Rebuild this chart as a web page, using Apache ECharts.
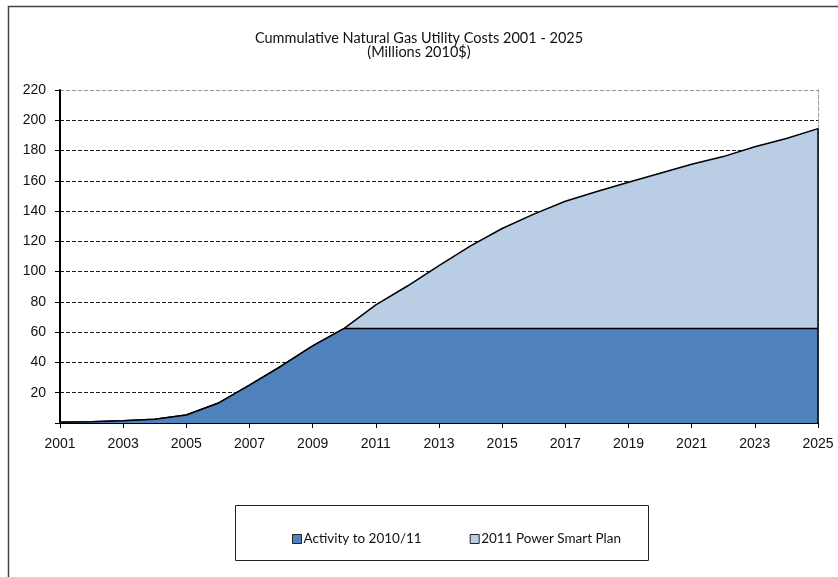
<!DOCTYPE html>
<html>
<head>
<meta charset="utf-8">
<title>Cummulative Natural Gas Utility Costs 2001 - 2025</title>
<script src="https://cdn.jsdelivr.net/npm/echarts@6/dist/echarts.min.js"></script>
<style>
  html, body { margin: 0; padding: 0; background: #fff; }
  #chart { width: 838px; height: 577px; }
</style>
</head>
<body>
<div id="chart"></div>
<script>
// Years on the category axis
const years = ['2001','2002','2003','2004','2005','2006','2007','2008','2009','2010',
  '2011','2012','2013','2014','2015','2016','2017','2018','2019','2020',
  '2021','2022','2023','2024','2025'];

// Cumulative spend through 2010/11 (millions 2010$), flat once the period ends
const activity = [0.5, 0.8, 1.5, 2.5, 5.3, 13, 25, 37.5, 51, 62.5,
  62.5, 62.5, 62.5, 62.5, 62.5, 62.5, 62.5, 62.5, 62.5, 62.5,
  62.5, 62.5, 62.5, 62.5, 62.5];

// Additional cumulative spend under the 2011 Power Smart Plan (stacked on top)
const powerSmart = [0, 0, 0, 0, 0, 0, 0, 0, 0, 0,
  15.5, 28, 41.5, 54.5, 66, 75.5, 84, 90.5, 96.5, 102.5,
  108.5, 113.5, 120, 125.5, 132];

const yTicks = { min: 0, max: 220, step: 20 };

const seriesNames = ['Activity to 2010/11', '2011 Power Smart Plan'];
const titleLines = ['Cummulative Natural Gas Utility Costs 2001 - 2025', '(Millions 2010$)'];

const lastIdx = years.length - 1;
const lastTotal = activity[lastIdx] + powerSmart[lastIdx];

// grid line colours: dark dashes, the top border lighter
const splitColors = [];
for (let v = yTicks.min; v <= yTicks.max; v += yTicks.step) {
  splitColors.push(v === yTicks.max ? '#9a9a9a' : '#1a1a1a');
}

const chart = echarts.init(document.getElementById('chart'), null, { renderer: 'canvas' });

chart.setOption({
  animation: false,
  backgroundColor: '#fff',
  textStyle: { fontFamily: 'Liberation Sans, Arial, sans-serif' },
  title: {
    text: titleLines.join('\n'),
    left: 'center',
    top: 26,
    textStyle: {
      fontFamily: 'Lato, sans-serif',
      fontSize: 14.5,
      fontWeight: 'normal',
      color: '#111',
      lineHeight: 14
    }
  },
  graphic: [
    {
      type: 'rect',
      silent: true,
      shape: { x: 8.5, y: 6.5, width: 900, height: 700 },
      style: { fill: null, stroke: '#444', lineWidth: 1.5 }
    },
    {
      type: 'rect',
      silent: true,
      shape: { x: 235.5, y: 505.5, width: 413, height: 55 },
      style: { fill: null, stroke: '#222', lineWidth: 1 }
    }
  ],
  legend: {
    left: 287,
    top: 527,
    itemGap: 48,
    itemWidth: 9,
    itemHeight: 9,
    icon: 'rect',
    textStyle: { fontFamily: 'Lato, sans-serif', fontSize: 13.5, color: '#111', padding: [0, 0, 0, -3] },
    data: seriesNames.map(n => ({ name: n, itemStyle: { borderColor: '#222', borderWidth: 1 } }))
  },
  grid: { left: 60, right: 20, top: 90, bottom: 154, containLabel: false },
  xAxis: {
    type: 'category',
    data: years,
    boundaryGap: false,
    axisLine: { lineStyle: { color: '#000', width: 2 } },
    axisTick: { show: true, interval: 1, length: 5, lineStyle: { color: '#000', width: 1 } },
    axisLabel: { interval: 1, color: '#111', fontSize: 14, margin: 14 },
    splitLine: { show: false }
  },
  yAxis: [
    {
      type: 'value',
      min: yTicks.min,
      max: yTicks.max,
      interval: yTicks.step,
      axisLine: { show: true, lineStyle: { color: '#000', width: 2 } },
      axisTick: { show: true, length: 5, lineStyle: { color: '#000' } },
      axisLabel: {
        color: '#111', fontSize: 14, margin: 14,
        formatter: v => (v === 0 ? '' : String(v))
      },
      splitLine: { show: true, lineStyle: { type: [4, 2], color: splitColors, width: 1 } }
    },
    {
      type: 'value',
      min: yTicks.min,
      max: yTicks.max,
      interval: yTicks.step,
      position: 'right',
      axisLine: { show: true, lineStyle: { color: '#9a9a9a', type: [4, 2], width: 1 } },
      axisTick: { show: false },
      axisLabel: { show: false },
      splitLine: { show: false }
    }
  ],
  series: [
    {
      name: seriesNames[0],
      type: 'line',
      stack: 'total',
      data: activity,
      symbol: 'none',
      color: '#4F81BD',
      lineStyle: { color: '#000', width: 1.5 },
      areaStyle: { color: '#4F81BD', opacity: 1 },
      z: 3
    },
    {
      name: seriesNames[1],
      type: 'line',
      stack: 'total',
      data: powerSmart,
      symbol: 'none',
      color: '#B9CDE5',
      lineStyle: { color: '#000', width: 1.5 },
      areaStyle: { color: '#B9CDE5', opacity: 1 },
      z: 2,
      markLine: {
        silent: true,
        symbol: 'none',
        label: { show: false },
        lineStyle: { color: '#000', type: 'solid', width: 1.5 },
        data: [[
          { coord: [years[lastIdx], 0] },
          { coord: [years[lastIdx], lastTotal] }
        ]]
      }
    }
  ]
});
</script>
</body>
</html>
